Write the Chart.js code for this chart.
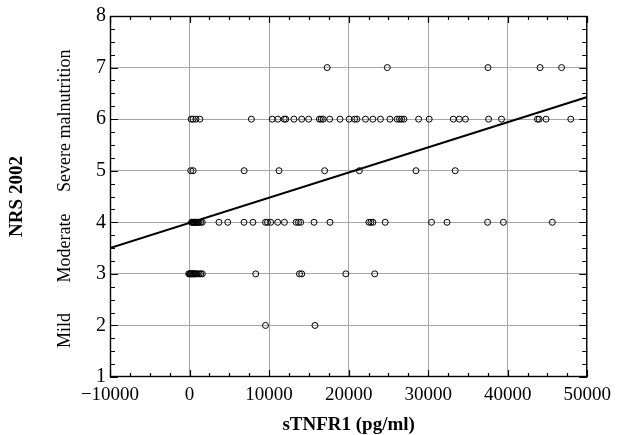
<!DOCTYPE html>
<html>
<head>
<meta charset="utf-8">
<script src="https://cdn.jsdelivr.net/npm/chart.js@4/dist/chart.umd.min.js"></script>
<style>
  html, body { margin: 0; padding: 0; background: #fff; }
  canvas { display: block; }
</style>
</head>
<body>
<canvas id="chart" width="618" height="435"></canvas>
<script>
// sTNFR1 values (pg/ml) for each NRS 2002 score
const score7 = [17300, 24860, 37520, 44070, 46770]
const score6 = [200, 450, 800, 1300, 7770, 10400, 11100, 11900, 12100, 13120, 14100, 14970,
  16330, 16560, 16800, 17620, 18920, 20060, 20750, 21040, 22120, 23050, 24000, 25190,
  26100, 26400, 26650, 26950, 28800, 30130, 33160, 33910, 34690, 37600, 39220, 43740,
  43950, 44820, 47930]
const score5 = [150, 450, 6870, 11250, 16980, 21350, 28470, 33400]
const score4 = [250, 350, 450, 550, 650, 750, 850, 950, 1050, 1200, 1400, 1600, 3700, 4800,
  6850, 7970, 9550, 9800, 10200, 11080, 11930, 13400, 13700, 13970, 15650, 17660, 22550,
  22800, 23050, 24600, 30420, 32370, 37470, 39460, 45610]
const score3 = [-100, 0, 100, 200, 300, 400, 500, 600, 700, 800, 1000, 1200, 1400, 1600,
  8320, 13820, 14100, 19650, 23280]
const score2 = [9550, 15770]

const scores = [7, 6, 5, 4, 3, 2]
const scoreValues = [score7, score6, score5, score4, score3, score2]

// regression line end points
const fitX = [-10000, 50000]
const fitY = [3.5, 6.43]

const categories = ['Severe malnutrition', 'Moderate', 'Mild']
const categoryAt = [5.97, 3.5, 1.9]

const SERIF = '"Liberation Serif", "Times New Roman", serif'

const points = []
scoreValues.forEach((xs, i) => xs.forEach(x => points.push({ x, y: scores[i] })))

const fmt = v => v < 0 ? '\u2212' + Math.abs(v) : String(v)

// frame, inside ticks and the category labels on the left
const frame = {
  id: 'frame',
  afterDraw (chart) {
    const { ctx, chartArea: a } = chart
    const xs = chart.scales.x
    const ys = chart.scales.y
    ctx.save()
    ctx.strokeStyle = '#000'
    ctx.lineWidth = 1.4
    ctx.strokeRect(a.left + 0.5, a.top + 0.5, a.right - a.left - 1, a.bottom - a.top - 1)
    ctx.lineWidth = 1.2
    ctx.beginPath()
    for (let v = -10000; v <= 50000; v += 2500) {
      const px = Math.round(xs.getPixelForValue(v)) + 0.5
      const len = v % 10000 === 0 ? 7 : 4
      ctx.moveTo(px, a.bottom); ctx.lineTo(px, a.bottom - len)
      ctx.moveTo(px, a.top); ctx.lineTo(px, a.top + len)
    }
    for (let v = 1; v <= 8; v += 0.25) {
      const py = Math.round(ys.getPixelForValue(v)) + 0.5
      const len = Number.isInteger(v) ? 8 : 5
      ctx.moveTo(a.left, py); ctx.lineTo(a.left + len, py)
      ctx.moveTo(a.right, py); ctx.lineTo(a.right - len, py)
    }
    ctx.stroke()

    ctx.fillStyle = '#000'
    ctx.font = '18px ' + SERIF
    ctx.textAlign = 'center'
    ctx.textBaseline = 'middle'
    categories.forEach((c, i) => {
      ctx.save()
      ctx.translate(65, ys.getPixelForValue(categoryAt[i]))
      ctx.rotate(-Math.PI / 2)
      ctx.fillText(c, 0, 0)
      ctx.restore()
    })
    ctx.restore()
  }
}

new Chart(document.getElementById('chart'), {
  type: 'scatter',
  data: {
    datasets: [
      {
        type: 'line',
        data: fitX.map((x, i) => ({ x, y: fitY[i] })),
        borderColor: '#000',
        borderWidth: 2,
        pointRadius: 0,
        fill: false,
        order: 0
      },
      {
        data: points,
        pointRadius: 3,
        pointBorderWidth: 1,
        pointBorderColor: '#000',
        pointBackgroundColor: 'rgba(0,0,0,0)',
        order: 1
      }
    ]
  },
  options: {
    responsive: false,
    animation: false,
    devicePixelRatio: 1,
    layout: { padding: { left: 0, top: 15, right: 26, bottom: 0 } },
    plugins: { legend: { display: false }, tooltip: { enabled: false } },
    scales: {
      x: {
        type: 'linear',
        min: -10000,
        max: 50000,
        afterFit: s => { s.height = 58 },
        border: { display: false },
        grid: {
          color: c => (c.tick && (c.tick.value === -10000 || c.tick.value === 50000)) ? 'rgba(0,0,0,0)' : '#a6a6a6',
          drawTicks: false
        },
        ticks: {
          stepSize: 10000,
          padding: 7,
          color: '#000',
          font: { family: SERIF, size: 19 },
          maxRotation: 0,
          callback: v => fmt(v)
        },
        title: {
          display: true,
          text: 'sTNFR1 (pg/ml)',
          color: '#000',
          font: { family: SERIF, size: 19, weight: 'bold', lineHeight: 1 },
          padding: 0
        }
      },
      y: {
        type: 'linear',
        min: 1,
        max: 8,
        afterFit: s => { s.width = 110 },
        border: { display: false },
        grid: {
          color: c => (c.tick && (c.tick.value === 1 || c.tick.value === 8)) ? 'rgba(0,0,0,0)' : '#a6a6a6',
          drawTicks: false
        },
        ticks: {
          stepSize: 1,
          padding: 4,
          color: '#000',
          font: { family: SERIF, size: 20 }
        },
        title: {
          display: true,
          text: 'NRS 2002',
          color: '#000',
          font: { family: SERIF, size: 19, weight: 'bold', lineHeight: 1 },
          padding: { top: 8, bottom: 0 }
        }
      }
    }
  },
  plugins: [frame]
})
</script>
</body>
</html>
